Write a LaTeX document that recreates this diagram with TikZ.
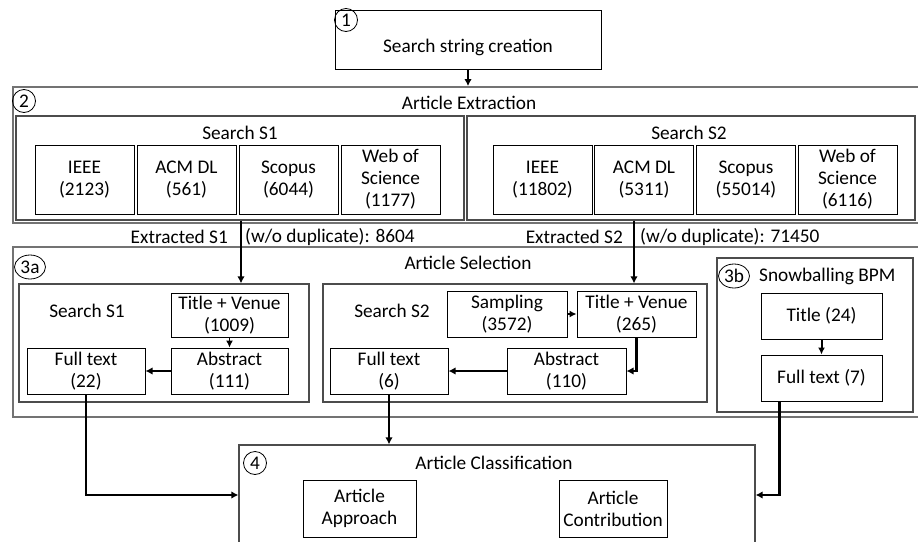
\documentclass[tikz,border=0pt]{standalone}
\usepackage{fontspec}
\setmainfont{Carlito}
\usetikzlibrary{arrows.meta,shapes.geometric,calc}
\begin{document}
\begin{tikzpicture}[x=1pt,y=-1pt,
  font=\fontsize{19.3}{22}\selectfont,
  frame/.style={draw=black!55, line width=1.8pt, inner sep=0pt},
  grp/.style={draw=black!70, line width=1.2pt, inner sep=0pt},
  box/.style={draw=black, line width=1pt, align=center, inner sep=0pt},
  num/.style={draw=black, line width=0.8pt, circle, minimum size=23pt, inner sep=0pt},
  numo/.style={draw=black, line width=0.8pt, ellipse, minimum width=31pt, minimum height=24pt, inner sep=0pt},
  lbl/.style={inner sep=0pt, align=center},
  arr/.style={line width=2.8pt, -{Latex[length=7pt,width=7.5pt]}},
  thinarr/.style={line width=1.2pt, -{Latex[length=7pt,width=7pt]}},
  midarr/.style={line width=2pt, -{Latex[length=7pt,width=7pt]}}]
\useasboundingbox (0,0) rectangle (918,541);
\fill[white] (0,0) rectangle (918,541);
\clip (0,0) rectangle (918,541);

% 1
\node[box, minimum width=266pt, minimum height=59pt] (box1) at (468,39.5) {};
\node[num] (n1) at (346,20) {1};
\node[lbl] (t1) at (468,47) {Search string creation};

% 2 Article Extraction
\node[frame, minimum width=912pt, minimum height=136pt] (ext) at (469,155) {};
\node[num] (n2) at (24,101) {2};
\node[lbl] (t2) at (469,103) {Article Extraction};
\node[grp, minimum width=448pt, minimum height=104pt] (s1e) at (240,168) {};
\node[grp, minimum width=448pt, minimum height=104pt] (s2e) at (691,168) {};
\node[lbl] (s1t) at (240,133) {Search S1};
\node[lbl] (s2t) at (689,133) {Search S2};
\begin{scope}[every node/.style={box, minimum height=69pt, minimum width=99pt}]
\node (ieee1) at (84.5,179.5) {IEEE\\(2123)};
\node (acm1) at (186.5,179.5) {ACM DL\\(561)};
\node (sco1) at (288.5,179.5) {Scopus\\(6044)};
\node (wos1) at (390.5,179.5) {Web of\\Science\\(1177)};
\node (ieee2) at (542.5,179.5) {IEEE\\(11802)};
\node (acm2) at (644,179.5) {ACM DL\\(5311)};
\node (sco2) at (746,179.5) {Scopus\\(55014)};
\node (wos2) at (847.5,179.5) {Web of\\Science\\(6116)};
\end{scope}

% extracted labels
\node[lbl, anchor=east] (ex1a) at (228,237) {Extracted S1};
\node[lbl, anchor=west] (ex1b) at (245,237) {(w/o duplicate): 8604};
\node[lbl, anchor=east] (ex2a) at (623,237) {Extracted S2};
\node[lbl, anchor=west] (ex2b) at (640,237) {(w/o duplicate): 71450};

% 3a Article Selection
\node[frame, minimum width=912pt, minimum height=170pt] (sel) at (469,332) {};
\node[numo] (n3a) at (30,267) {3a};
\node[lbl] (t3) at (468,263) {Article Selection};
\node[grp, minimum width=290pt, minimum height=118pt] (s1s) at (164,343) {};
\node[grp, minimum width=384pt, minimum height=118pt] (s2s) at (515,343) {};
\node[lbl] (s1st) at (87,311) {Search S1};
\node[lbl] (s2st) at (392,311) {Search S2};
\node[box, minimum width=117pt, minimum height=44pt] (tv1) at (229.5,315) {Title + Venue\\(1009)};
\node[box, minimum width=117pt, minimum height=46pt] (ab1) at (229.5,371) {Abstract\\(111)};
\node[box, minimum width=118pt, minimum height=46pt] (ft1) at (86,371) {Full text\\(22)};
\node[box, minimum width=118pt, minimum height=46pt] (ft2) at (389,371) {Full text\\(6)};
\node[box, minimum width=120pt, minimum height=46pt] (samp) at (507,314) {Sampling\\(3572)};
\node[box, minimum width=119pt, minimum height=46pt] (tv2) at (636.5,314) {Title + Venue\\(265)};
\node[box, minimum width=119pt, minimum height=46pt] (ab2) at (566.5,371) {Abstract\\(110)};

% 3b
\node[grp, minimum width=196pt, minimum height=154pt] (snow) at (815,335) {};
\node[numo] (n3b) at (734,276) {3b};
\node[lbl, anchor=west] (t3b) at (759,276) {Snowballing BPM};
\node[box, minimum width=121pt, minimum height=46pt] (t24) at (821.5,316) {Title (24)};
\node[box, minimum width=121pt, minimum height=46pt] (ft7) at (821.5,378) {Full text (7)};

% 4
\node[grp, minimum width=516pt, minimum height=125pt] (cls) at (497,507.5) {};
\node[num] (n4) at (255,463) {4};
\node[lbl] (t4) at (494,463) {Article Classification};
\node[box, minimum width=113pt, minimum height=57pt] (apr) at (359.5,508.5) {Article\\Approach};
\node[box, minimum width=108pt, minimum height=57pt] (con) at (613,508.5) {Article\\Contribution};

% connectors
\coordinate (xs1) at (241,0);
\coordinate (xs2) at (634,0);
\coordinate (y495) at (0,495);
\draw[arr] (box1.south) -- (box1.south |- ext.north);
\draw[arr] (s1e.south -| xs1) -- (xs1 |- s1s.north);
\draw[arr] (s2e.south -| xs2) -- (xs2 |- s2s.north);
\draw[thinarr] (tv1.south) -- (ab1.north);
\draw[arr] (ab1.west) -- (ft1.east);
\draw[arr] (ft1.south) |- (cls.west |- y495);
\draw[arr] (ft2.south) -- (ft2.south |- cls.north);
\draw[thinarr] (samp.east) -- (tv2.west);
\draw[arr] (tv2.south) |- (ab2.east);
\draw[arr] (ab2.west) -- (ft2.east);
\draw[midarr] (t24.south) -- (ft7.north);
\draw[arr] ([xshift=-42pt]ft7.south) |- (cls.east |- y495);
\end{tikzpicture}
\end{document}
